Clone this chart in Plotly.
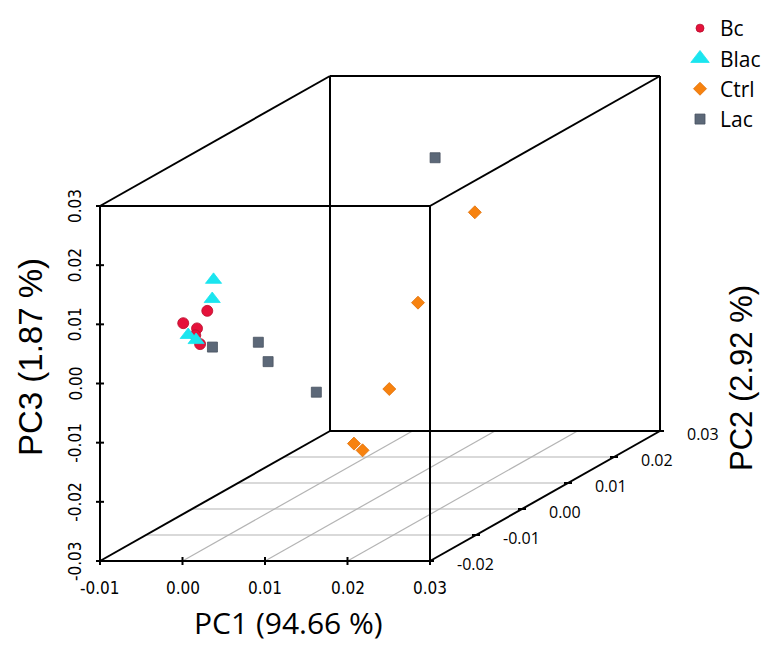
import plotly.graph_objects as go

# PCA scores: (PC1, PC2, PC3) per group
bc_pc1 = [-0.0009, -0.0027, -0.0027, -0.0018, -0.0001]
bc_pc2 = [-0.013, -0.015, -0.012, -0.014, -0.016]
bc_pc3 = [0.0092, 0.0080, 0.0058, 0.0055, 0.0049]

blac_pc1 = [-0.0007, -0.0003, -0.0021, -0.0017]
blac_pc2 = [-0.012, -0.013, -0.015, -0.014]
blac_pc3 = [0.0140, 0.0112, 0.0060, 0.0047]

ctrl_pc1 = [0.0109, 0.0107, 0.0128, 0.0074, 0.0090]
ctrl_pc2 = [0.024, 0.012, 0.002, 0.004, 0.003]
ctrl_pc3 = [0.0096, -0.0004, -0.0106, -0.0207, -0.0214]

lac_pc1 = [0.0014, 0.0025, 0.0048, 0.0073, 0.0072]
lac_pc2 = [-0.016, -0.008, -0.010, -0.004, 0.022]
lac_pc3 = [0.0044, 0.0017, -0.0007, -0.0085, 0.0197]

pc1_ticks = [-0.01, 0.00, 0.01, 0.02, 0.03]
pc2_ticks = [-0.02, -0.01, 0.00, 0.01, 0.02, 0.03]
pc3_ticks = [-0.03, -0.02, -0.01, 0.00, 0.01, 0.02, 0.03]

pc1_title = 'PC1 (94.66 %)'
pc2_title = 'PC2 (2.92 %)'
pc3_title = 'PC3 (1.87 %)'

# oblique (scatterplot3d-like) box, in page pixels
PAGE_PAD = 8  # default body margin of the html page
ORIGIN = (100, 561)  # screen point of (PC1 min, PC2 min, PC3 min)
BOX_W, BOX_H = 330, 355
DEPTH_X, DEPTH_Y = 230, 130

PC1_LIM = (pc1_ticks[0], pc1_ticks[-1])
PC2_LIM = (pc2_ticks[0], pc2_ticks[-1])
PC3_LIM = (pc3_ticks[0], pc3_ticks[-1])


def frac(v, lim):
    return (v - lim[0]) / (lim[1] - lim[0])


def project(xs, ys, zs):
    us, vs = [], []
    for x, y, z in zip(xs, ys, zs):
        fy = frac(y, PC2_LIM)
        us.append(ORIGIN[0] + BOX_W * frac(x, PC1_LIM) + DEPTH_X * fy)
        vs.append(ORIGIN[1] - BOX_H * frac(z, PC3_LIM) - DEPTH_Y * fy)
    return us, vs


def segments(pairs):
    # pairs of 3d points -> one line trace with gaps
    us, vs = [], []
    for a, b in pairs:
        pu, pv = project([a[0], b[0]], [a[1], b[1]], [a[2], b[2]])
        us += pu + [None]
        vs += pv + [None]
    return us, vs


fig = go.Figure()

x0, x1 = PC1_LIM
y0, y1 = PC2_LIM
z0, z1 = PC3_LIM

# floor grid
grid = [((x0, y, z0), (x1, y, z0)) for y in pc2_ticks[1:-1]]
grid += [((x, y0, z0), (x, y1, z0)) for x in pc1_ticks[1:-1]]
gu, gv = segments(grid)
fig.add_trace(go.Scatter(x=gu, y=gv, mode='lines', showlegend=False, hoverinfo='skip',
                         line=dict(color='#b4b4b4', width=1.2)))

# box edges
corners = [(x, y, z) for x in PC1_LIM for y in PC2_LIM for z in PC3_LIM]
edges = []
for i, a in enumerate(corners):
    for b in corners[i + 1:]:
        if sum(1 for k in range(3) if a[k] != b[k]) == 1:
            edges.append((a, b))
bu, bv = segments(edges)
fig.add_trace(go.Scatter(x=bu, y=bv, mode='lines', showlegend=False, hoverinfo='skip',
                         line=dict(color='black', width=2)))

# tick marks
tu, tv = [], []
zu, zv = project([x0] * len(pc3_ticks), [y0] * len(pc3_ticks), pc3_ticks)
for u, v in zip(zu, zv):
    tu += [u - 4, u + 4, None]
    tv += [v, v, None]
xu, xv = project(pc1_ticks, [y0] * len(pc1_ticks), [z0] * len(pc1_ticks))
for u, v in zip(xu, xv):
    tu += [u, u, None]
    tv += [v - 4, v + 4, None]
yu, yv = project([x1] * len(pc2_ticks), pc2_ticks, [z0] * len(pc2_ticks))
for u, v in zip(yu, yv):
    tu += [u - 4, u + 4, None]
    tv += [v, v, None]
fig.add_trace(go.Scatter(x=tu, y=tv, mode='lines', showlegend=False, hoverinfo='skip',
                         line=dict(color='black', width=2)))

groups = [
    ('Bc', bc_pc1, bc_pc2, bc_pc3, 'circle', '#e5123b', '#b80d2c', 11, 8),
    ('Blac', blac_pc1, blac_pc2, blac_pc3, 'triangle-up', '#1be5ef', '#1be5ef', 14, 16),
    ('Ctrl', ctrl_pc1, ctrl_pc2, ctrl_pc3, 'diamond', '#f7820f', '#e07008', 10, 10),
    ('Lac', lac_pc1, lac_pc2, lac_pc3, 'square', '#5c6878', '#48525f', 10, 10),
]

for name, px, py, pz, symbol, color, edge, size, leg_size in groups:
    su, sv = project(px, py, pz)
    fig.add_trace(go.Scatter(
        x=su, y=sv, mode='markers', name=name, showlegend=False,
        marker=dict(symbol=symbol, color=color, size=size, line=dict(color=edge, width=0.8)),
        customdata=list(zip(px, py, pz)),
        hovertemplate='PC1 %{customdata[0]}<br>PC2 %{customdata[1]}<br>PC3 %{customdata[2]}<extra>' + name + '</extra>'
    ))
    # legend entry
    fig.add_trace(go.Scatter(
        x=[None], y=[None], mode='markers', name=name,
        marker=dict(symbol=symbol, color=color, size=leg_size, line=dict(color=edge, width=0.8))
    ))

annotations = []
tick_font = dict(family='Liberation Sans Narrow, DejaVu Sans Condensed, Arial', size=17, color='black')
for t, u, v in zip(pc3_ticks, zu, zv):
    annotations.append(dict(x=u - 25, y=v, text=f'{t:.2f}', textangle=-90, font=tick_font))
for t, u, v in zip(pc1_ticks, xu, xv):
    annotations.append(dict(x=u, y=v + 27, text=f'{t:.2f}', font=tick_font))
for t, u, v in zip(pc2_ticks, yu, yv):
    annotations.append(dict(x=u + 25, y=v + 3, text=f'{t:.2f}', xanchor='left',
                            font=dict(family='Open Sans', size=16, color='black')))

annotations.append(dict(x=288, y=622, text=pc1_title,
                        font=dict(family='Open Sans', size=30, color='black')))
annotations.append(dict(x=30, y=357, text=pc3_title, textangle=-90,
                        font=dict(family='Liberation Sans Narrow, Arial', size=33, color='black')))
annotations.append(dict(x=741, y=378, text=pc2_title, textangle=-90,
                        font=dict(family='Liberation Sans, Arial', size=31, color='black')))
for a in annotations:
    a.update(xref='x', yref='y', showarrow=False)

fig_w = 780 - 2 * PAGE_PAD
fig_h = 651 - 2 * PAGE_PAD

fig.update_layout(
    width=fig_w,
    height=fig_h,
    margin=dict(l=0, r=0, t=0, b=0, autoexpand=False),
    paper_bgcolor='white',
    plot_bgcolor='white',
    xaxis=dict(range=[PAGE_PAD, 780 - PAGE_PAD], visible=False, fixedrange=True),
    yaxis=dict(range=[651 - PAGE_PAD, PAGE_PAD], visible=False, fixedrange=True),
    annotations=annotations,
    legend=dict(
        x=(680 - PAGE_PAD) / fig_w, y=1.0, xanchor='left', yanchor='top',
        font=dict(family='Open Sans', size=21, color='black'),
        bgcolor='rgba(0,0,0,0)', tracegroupgap=0, itemsizing='trace',
    ),
)

fig.write_html("out.html")
